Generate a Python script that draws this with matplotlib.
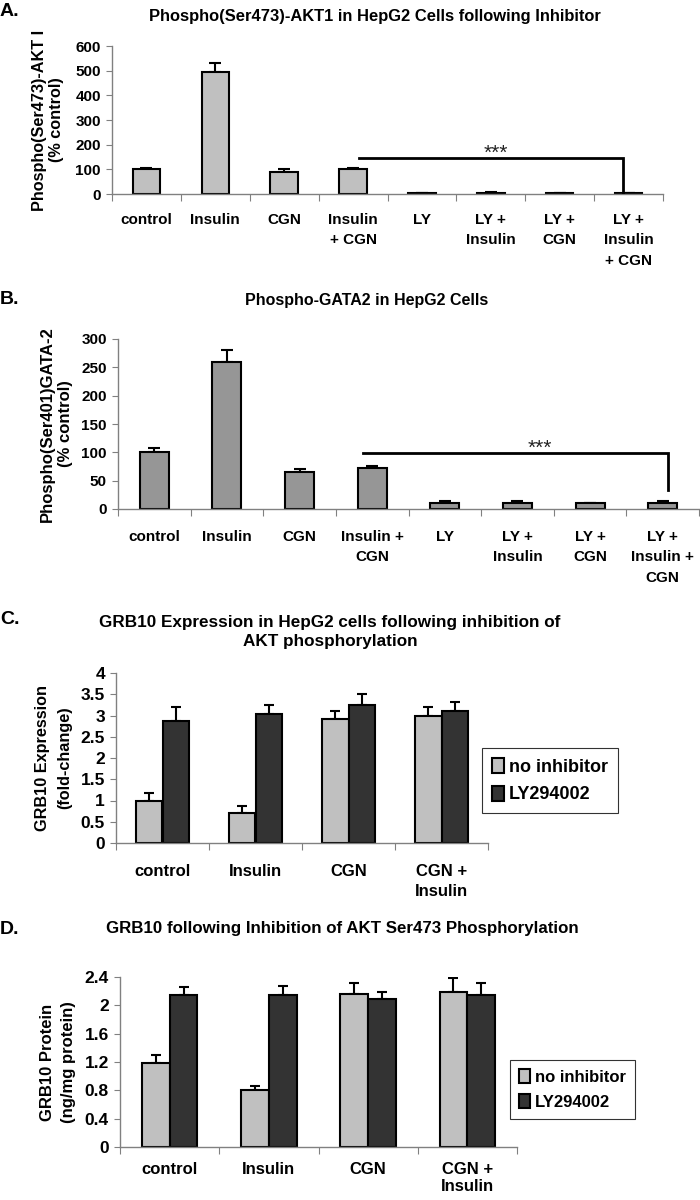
import matplotlib

matplotlib.use("Agg")
import matplotlib.pyplot as plt
import numpy as np

plt.rcParams["font.family"] = ["Liberation Sans", "DejaVu Sans"]
plt.rcParams["font.weight"] = "bold"

# Panel A: phospho-AKT1
a_labels = ["control", "Insulin", "CGN", "Insulin\n+ CGN", "LY", "LY +\nInsulin", "LY +\nCGN", "LY +\nInsulin\n+ CGN"]
a_vals = [101, 496, 89, 101, 3, 4, 3, 3]
a_err = [6, 36, 12, 6, 0, 3, 0, 0]

# Panel B: phospho-GATA2
b_labels = ["control", "Insulin", "CGN", "Insulin +\nCGN", "LY", "LY +\nInsulin", "LY +\nCGN", "LY +\nInsulin +\nCGN"]
b_vals = [100, 260, 65, 72, 11, 11, 11, 11]
b_err = [7, 21, 5, 4, 3, 3, 0, 3]

# Panels C and D: GRB10
cd_labels = ["control", "Insulin", "CGN", "CGN +\nInsulin"]
series_names = ["no inhibitor", "LY294002"]
c_light = [1.00, 0.71, 2.92, 3.00]
c_light_err = [0.18, 0.17, 0.18, 0.19]
c_dark = [2.86, 3.04, 3.24, 3.10]
c_dark_err = [0.33, 0.21, 0.26, 0.21]
d_light = [1.19, 0.81, 2.16, 2.19]
d_light_err = [0.11, 0.05, 0.16, 0.20]
d_dark = [2.15, 2.14, 2.09, 2.14]
d_dark_err = [0.11, 0.13, 0.10, 0.18]

LIGHT = "#c0c0c0"
MID = "#969696"
DARK = "#333333"
AXIS = "#808080"
W, H = 700, 1200


def px_axes(fig, x0, y0, x1, y1):
    return fig.add_axes([x0 / W, 1 - y1 / H, (x1 - x0) / W, (y1 - y0) / H])


def style_axes(ax, n, labels, ylim, yticks, xsize, ysize, xpad, xspacing):
    ax.set_xlim(0, n)
    ax.set_ylim(*ylim)
    for s in ["top", "right"]:
        ax.spines[s].set_visible(False)
    for s in ["left", "bottom"]:
        ax.spines[s].set_color(AXIS)
        ax.spines[s].set_linewidth(1.0)
    ax.set_xticks(np.arange(n + 1))
    ax.set_xticklabels([])
    ax.set_xticks(np.arange(n) + 0.5, minor=True)
    ax.set_xticklabels(labels, minor=True, fontsize=xsize, fontweight="bold", linespacing=xspacing)
    ax.tick_params(axis="x", which="major", length=5, color=AXIS, direction="out")
    ax.tick_params(axis="x", which="minor", length=0, pad=xpad)
    ax.set_yticks(yticks)
    ax.set_yticklabels([f"{v:g}" for v in yticks], fontsize=ysize, fontweight="bold")
    ax.tick_params(axis="y", length=4, color=AXIS, direction="out", pad=4)


def single_bars(ax, vals, err, color):
    x = np.arange(len(vals)) + 0.5
    ax.bar(x, vals, width=0.4, color=color, edgecolor="black", linewidth=1.5, zorder=2)
    ax.errorbar(x, vals, yerr=[np.zeros(len(err)), err], fmt="none", ecolor="black",
                elinewidth=1.5, capsize=4, capthick=1.5, zorder=1)


def paired_bars(ax, light, light_err, dark, dark_err, width):
    x = np.arange(len(light)) + 0.5
    for off, vals, err, color, name in [(-width / 2, light, light_err, LIGHT, series_names[0]),
                                        (width / 2, dark, dark_err, DARK, series_names[1])]:
        ax.bar(x + off, vals, width=width, color=color, edgecolor="black", linewidth=1.5,
               zorder=2, label=name)
        ax.errorbar(x + off, vals, yerr=[np.zeros(len(err)), err], fmt="none", ecolor="black",
                    elinewidth=1.5, capsize=3.5, capthick=1.5, zorder=1)


def bracket(ax, x0, x1, y, ybot, ystar, xstar):
    ax.plot([x0, x1, x1], [y, y, ybot], color="black", linewidth=2, zorder=3,
            solid_joinstyle="miter")
    ax.text(xstar, ystar, "***", ha="center", va="center", fontsize=15, fontweight="normal",
            color="#222222")


def add_legend(fig, ax, x, y, size):
    leg = fig.legend(*ax.get_legend_handles_labels(), loc="upper left",
                     bbox_to_anchor=(x / W, 1 - y / H), borderaxespad=0, fontsize=size,
                     frameon=True, fancybox=False, edgecolor="black", handlelength=0.65,
                     handleheight=0.9, handletextpad=0.3, borderpad=0.55, labelspacing=0.55)
    leg.get_frame().set_linewidth(0.8)


fig = plt.figure(figsize=(7, 12), dpi=100)

# ---- Panel A
ax = px_axes(fig, 112, 46, 663, 194)
style_axes(ax, 8, a_labels, (0, 600), [0, 100, 200, 300, 400, 500, 600], 11, 11, 14, 1.55)
single_bars(ax, a_vals, a_err, LIGHT)
bracket(ax, 3.58, 7.42, 146, 0, 164, 5.57)
ax.set_ylabel("Phospho(Ser473)-AKT I\n(% control)", fontsize=11.7, fontweight="bold", labelpad=8)
fig.text(0 / W, 1 - 12 / H, "A.", fontsize=14, fontweight="bold", va="center", ha="left")
fig.text(375 / W, 1 - 17 / H, "Phospho(Ser473)-AKT1 in HepG2 Cells following Inhibitor",
         fontsize=11.9, fontweight="bold", ha="center", va="center")

# ---- Panel B
ax = px_axes(fig, 118, 339, 699, 509)
style_axes(ax, 8, b_labels, (0, 300), [0, 50, 100, 150, 200, 250, 300], 11, 11, 15, 1.6)
single_bars(ax, b_vals, b_err, MID)
bracket(ax, 3.37, 7.58, 99, 33, 107, 5.81)
ax.set_ylabel("Phospho(Ser401)GATA-2\n(% control)", fontsize=12, fontweight="bold", labelpad=6,
              linespacing=1.3)
fig.text(0 / W, 1 - 300 / H, "B.", fontsize=14, fontweight="bold", va="center", ha="left")
fig.text(367 / W, 1 - 300 / H, "Phospho-GATA2 in HepG2 Cells",
         fontsize=11.5, fontweight="bold", ha="center", va="center")

# ---- Panel C
ax = px_axes(fig, 116, 673, 488, 843)
style_axes(ax, 4, cd_labels, (0, 4), [0, 0.5, 1, 1.5, 2, 2.5, 3, 3.5, 4], 12, 12.5, 15, 1.4)
paired_bars(ax, c_light, c_light_err, c_dark, c_dark_err, 0.29)
ax.set_ylabel("GRB10 Expression\n(fold-change)", fontsize=11.7, fontweight="bold", labelpad=6,
              linespacing=1.6)
add_legend(fig, ax, 482, 748, 13)
fig.text(0 / W, 1 - 619 / H, "C.", fontsize=14, fontweight="bold", va="center", ha="left")
fig.text(330 / W, 1 - 632 / H, "GRB10 Expression in HepG2 cells following inhibition of\nAKT phosphorylation",
         fontsize=12.3, fontweight="bold", ha="center", va="center", linespacing=1.3)

# ---- Panel D
ax = px_axes(fig, 120, 977, 517, 1147)
style_axes(ax, 4, cd_labels, (0, 2.4), [0, 0.4, 0.8, 1.2, 1.6, 2.0, 2.4], 12, 12.5, 11, 1.15)
paired_bars(ax, d_light, d_light_err, d_dark, d_dark_err, 0.28)
ax.set_ylabel("GRB10 Protein\n(ng/mg protein)", fontsize=12, fontweight="bold", labelpad=6,
              linespacing=1.5)
add_legend(fig, ax, 510, 1060, 12)
fig.text(0 / W, 1 - 930 / H, "D.", fontsize=14, fontweight="bold", va="center", ha="left")
fig.text(342 / W, 1 - 928 / H, "GRB10 following Inhibition of AKT Ser473 Phosphorylation",
         fontsize=12.2, fontweight="bold", ha="center", va="center")

fig.savefig("out.png", dpi=100)
